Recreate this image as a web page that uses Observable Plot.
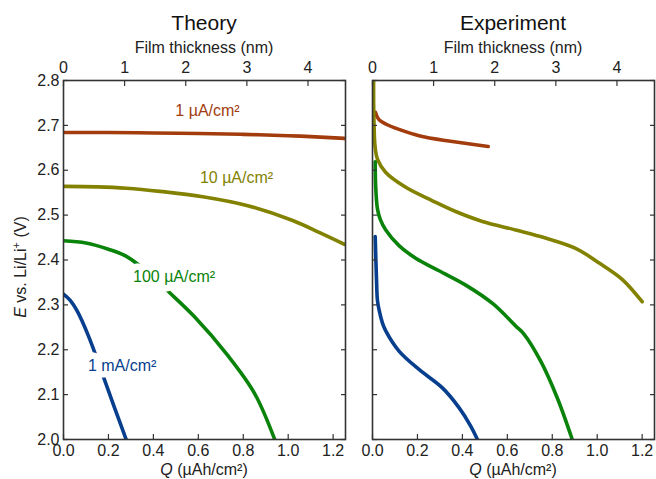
<!DOCTYPE html>
<html><head><meta charset="utf-8">
<script src="https://cdn.jsdelivr.net/npm/d3@7"></script>
<script src="https://cdn.jsdelivr.net/npm/@observablehq/plot@0.6"></script>
<style>
body{margin:0;background:#fff;font-family:"Liberation Sans",Arial,sans-serif;color:#222;}
#wrap{position:relative;width:656px;height:479px;overflow:hidden;}
.panel{position:absolute;top:0;}
.t{position:absolute;white-space:nowrap;line-height:1;text-align:center;transform:translateX(-50%);}
.title{font-size:21px;color:#111;}
.sub{font-size:16px;}
.ylab{position:absolute;white-space:nowrap;font-size:16px;line-height:1;transform:translate(-50%,-50%) rotate(-90deg);}
sup{font-size:11px;vertical-align:6px;line-height:0;}
</style></head><body><div id="wrap"></div>
<script>
// ---- axis ticks ----
const yTicks = [2.0, 2.1, 2.2, 2.3, 2.4, 2.5, 2.6, 2.7, 2.8];
const qTicks = [0.0, 0.2, 0.4, 0.6, 0.8, 1.0, 1.2];
const nmTicks = [0, 1, 2, 3, 4];
const qPerNm = 0.272;           // µAh/cm² per nm of film
const qMax = 1.255;

// ---- Theory series ----
const th1uA_Q = [0, 0.2, 0.4, 0.6, 0.8, 1.0, 1.1, 1.25];
const th1uA_E = [2.684, 2.684, 2.683, 2.682, 2.680, 2.677, 2.675, 2.671];
const th10uA_Q = [0, 0.15, 0.28, 0.43, 0.62, 0.82, 1.02, 1.14, 1.25];
const th10uA_E = [2.564, 2.563, 2.560, 2.553, 2.541, 2.521, 2.488, 2.461, 2.435];
const th100uA_Q = [0, 0.1, 0.2, 0.28, 0.4, 0.46, 0.58, 0.73, 0.85, 0.94];
const th100uA_E = [2.443, 2.438, 2.424, 2.408, 2.362, 2.333, 2.275, 2.188, 2.103, 2.0];
const th1mA_Q = [0, 0.03, 0.06, 0.11, 0.179, 0.224, 0.279];
const th1mA_E = [2.324, 2.31, 2.287, 2.232, 2.138, 2.075, 2.0];

// ---- Experiment series ----
const ex1uA_Q = [0.013, 0.027, 0.059, 0.118, 0.207, 0.34, 0.515];
const ex1uA_E = [2.729, 2.714, 2.703, 2.691, 2.677, 2.665, 2.653];
const ex10uA_Q = [0.005, 0.005, 0.007, 0.011, 0.022, 0.059, 0.148, 0.267, 0.37, 0.489, 0.637, 0.77, 0.904, 1.007, 1.111, 1.2];
const ex10uA_E = [2.82, 2.75, 2.70, 2.655, 2.625, 2.595, 2.562, 2.532, 2.508, 2.486, 2.467, 2.449, 2.426, 2.394, 2.357, 2.307];
const ex100uA_Q = [0.012, 0.014, 0.022, 0.035, 0.059, 0.118, 0.192, 0.296, 0.415, 0.537, 0.637, 0.674, 0.748, 0.822, 0.889];
const ex100uA_E = [2.619, 2.566, 2.514, 2.49, 2.467, 2.432, 2.404, 2.376, 2.344, 2.302, 2.253, 2.235, 2.175, 2.093, 2.0];
const ex1mA_Q = [0.012, 0.015, 0.018, 0.022, 0.03, 0.044, 0.059, 0.118, 0.207, 0.311, 0.385, 0.437, 0.467];
const ex1mA_E = [2.452, 2.40, 2.354, 2.31, 2.287, 2.26, 2.242, 2.197, 2.156, 2.115, 2.071, 2.03, 2.0];

// ---- series names, colours, labels ----
const names = ["1 µA/cm²", "10 µA/cm²", "100 µA/cm²", "1 mA/cm²"];
const colors = ["#a23c0c", "#828200", "#0a830a", "#073f8e"];
const labelQ = [0.641, 0.770, 0.492, 0.261];
const labelE = [2.733, 2.583, 2.3625, 2.164];

const theory = [[th1uA_Q, th1uA_E], [th10uA_Q, th10uA_E], [th100uA_Q, th100uA_E], [th1mA_Q, th1mA_E]];
const experiment = [[ex1uA_Q, ex1uA_E], [ex10uA_Q, ex10uA_E], [ex100uA_Q, ex100uA_E], [ex1mA_Q, ex1mA_E]];

function rows(pair) { return pair[0].map((q, i) => ({Q: q, E: pair[1][i]})); }

function panel(series, opts) {
  const marks = [];
  series.forEach((s, i) => {
    marks.push(Plot.line(rows(s), {x: "Q", y: "E", stroke: colors[i], strokeWidth: 3.6,
      curve: opts.curve, clip: true}));
  });
  if (opts.labels) {
    const lab = names.map((n, i) => ({n, Q: labelQ[i], E: labelE[i], c: colors[i]}));
    // white knock-out behind the labels
    marks.push(Plot.text(lab, {x: "Q", y: "E", text: "n", fill: "white", stroke: "white",
      strokeWidth: 13, strokeLinejoin: "round", fontSize: 16, textAnchor: "middle"}));
    marks.push(Plot.text(lab, {x: "Q", y: "E", text: "n", fill: d => d.c, fontSize: 16, textAnchor: "middle"}));
  }
  const tk = {stroke: "#333", strokeWidth: 1.2, label: null, tickFormat: () => ""};
  marks.push(
    Plot.frame({stroke: "#333", strokeWidth: 1.6}),
    Plot.axisY(yTicks, {...tk, anchor: "left", tickSize: 5, dx: 5}),
    Plot.axisY(yTicks, {...tk, anchor: "right", tickSize: 5, dx: -5}),
    Plot.axisX(qTicks, {...tk, anchor: "bottom", tickSize: 5, dy: -5}),
    Plot.axisX(nmTicks.map(n => n * qPerNm), {...tk, anchor: "top", tickSize: 5, dy: 5}),
    Plot.axisX(qTicks, {anchor: "bottom", tickSize: 0, tickPadding: 5, label: null,
      tickFormat: d3.format(".1f"), fill: "#222"}),
    Plot.axisX(nmTicks.map(n => n * qPerNm), {anchor: "top", tickSize: 0, tickPadding: 8, label: null,
      tickFormat: d => String(Math.round(d / qPerNm)), fill: "#222"})
  );
  if (opts.yLabels) {
    marks.push(Plot.axisY(yTicks, {anchor: "left", tickSize: 0, tickPadding: 4, label: null,
      tickFormat: d3.format(".1f"), fill: "#222"}));
  }
  return Plot.plot({
    width: opts.width, height: 479,
    marginLeft: opts.ml, marginRight: opts.mr, marginTop: 80, marginBottom: 40,
    x: {domain: [0, qMax]},
    y: {domain: [2.0, 2.8]},
    style: {background: "transparent", fontFamily: "Liberation Sans, Arial, sans-serif", fontSize: "16px", color: "#222"},
    marks
  });
}

const wrap = document.getElementById("wrap");
const left = panel(theory, {width: 350, ml: 63, mr: 5, curve: "catmull-rom", labels: true, yLabels: true});
left.classList.add("panel"); left.style.left = "0px";
const right = panel(experiment, {width: 326, ml: 42, mr: 2, curve: "catmull-rom", labels: false, yLabels: false});
right.classList.add("panel"); right.style.left = "330px";
wrap.appendChild(left);
wrap.appendChild(right);

function addText(html, cls, x, y) {
  const d = document.createElement("div");
  d.className = "t " + cls; d.innerHTML = html;
  d.style.left = x + "px"; d.style.top = y + "px";
  wrap.appendChild(d);
}
addText("Theory", "title", 204, 11.5);
addText("Experiment", "title", 513, 11.5);
addText("Film thickness (nm)", "sub", 204, 40);
addText("Film thickness (nm)", "sub", 513, 40);
addText("<i>Q</i> (µAh/cm²)", "sub", 204, 461.5);
addText("<i>Q</i> (µAh/cm²)", "sub", 513, 461.5);
const yl = document.createElement("div");
yl.className = "ylab";
yl.innerHTML = "<i>E</i> vs. Li/Li<sup>+</sup> (V)";
yl.style.left = "21px"; yl.style.top = "267px";
wrap.appendChild(yl);
</script>
</body></html>
